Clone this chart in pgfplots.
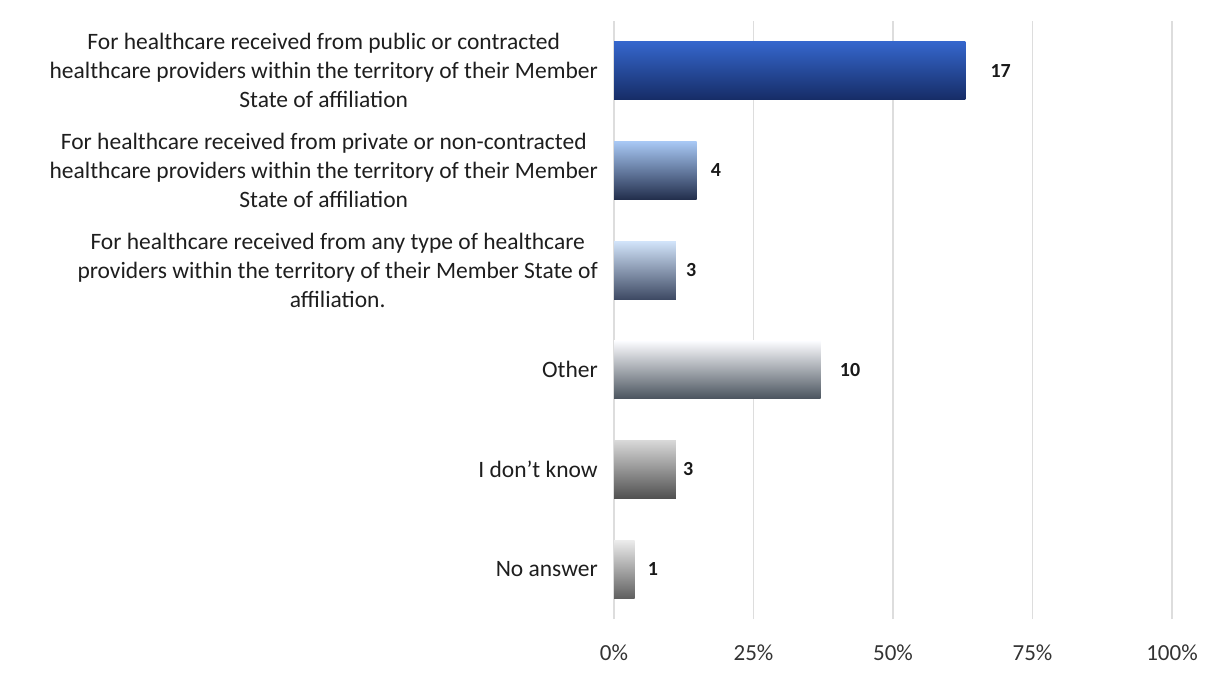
\documentclass[border=0pt]{standalone}
\usepackage{pgfplots}
\pgfplotsset{compat=1.18}
\usepackage{fontspec}
\setmainfont{Carlito}

% shaded bar colours (top / middle / bottom)
\definecolor{bAt}{HTML}{3566CC}\definecolor{bAm}{HTML}{5C96F5}\definecolor{bAb}{HTML}{162C66}
\definecolor{bBt}{HTML}{A8C8F4}\definecolor{bBm}{HTML}{86A6DC}\definecolor{bBb}{HTML}{222E4C}
\definecolor{bCt}{HTML}{D2E4FA}\definecolor{bCm}{HTML}{B4CAEC}\definecolor{bCb}{HTML}{3E4A64}
\definecolor{bDt}{HTML}{FCFCFF}\definecolor{bDm}{HTML}{E8EEFA}\definecolor{bDb}{HTML}{4A545E}
\definecolor{bEt}{HTML}{D8D8D8}\definecolor{bEm}{HTML}{B8B8B8}\definecolor{bEb}{HTML}{505050}
\definecolor{bFt}{HTML}{ECECEC}\definecolor{bFm}{HTML}{C8C8C8}\definecolor{bFb}{HTML}{606060}
\definecolor{gridgray}{HTML}{DDDDDD}
\definecolor{labelgray}{HTML}{1E1E1E}

\begin{document}
\begin{tikzpicture}[x=1pt,y=1pt]
\useasboundingbox (0,0) rectangle (1212,681);
\begin{axis}[
  at={(614pt,62pt)}, anchor=south west,
  scale only axis, width=558pt, height=598pt,
  xbar, bar shift=0pt, bar width=58pt,
  xmin=0, xmax=100, ymin=-0.5, ymax=5.5,
  xtick={0,25,50,75,100},
  xticklabel={\pgfmathprintnumber{\tick}\%},
  ytick={0,1,2,3,4,5},
  yticklabels={
    No answer,
    I don’t know,
    Other,
    {For healthcare received from any type of healthcare\\providers within the territory of their Member State of\\affiliation.},
    {For healthcare received from private or non-contracted\\healthcare providers within the territory of their Member\\State of affiliation},
    {For healthcare received from public or contracted\\healthcare providers within the territory of their Member\\State of affiliation}
  },
  major tick length=0pt,
  xmajorgrids, grid style={gridgray, line width=1.2pt},
  axis lines*=left,
  x axis line style={draw=none},
  y axis line style={draw=gridgray, line width=1.2pt},
  /pgf/number format/assume math mode=true,
  xticklabel style={font=\fontsize{23}{27}\selectfont, text=black!80, inner sep=0pt, yshift=-26pt},
  yticklabel style={font=\fontsize{23.5}{29}\selectfont, text=labelgray, align=center, inner sep=0pt, xshift=-16pt},
  nodes near coords,
  point meta=explicit symbolic,
  nodes near coords style={font=\bfseries\fontsize{20}{20}\selectfont, text=black!90, anchor=west, inner sep=0pt},
  clip=false,
]
% bar length = share of the 27 respondents, label = number of answers
\addplot[draw=none, top color=bAt, middle color=bAm, bottom color=bAb,
  nodes near coords style={xshift=25pt}] coordinates {(62.96,5) [17]};
\addplot[draw=none, top color=bBt, middle color=bBm, bottom color=bBb,
  nodes near coords style={xshift=14pt}] coordinates {(14.81,4) [4]};
\addplot[draw=none, top color=bCt, middle color=bCm, bottom color=bCb,
  nodes near coords style={xshift=10pt}] coordinates {(11.11,3) [3]};
\addplot[draw=none, top color=bDt, middle color=bDm, bottom color=bDb,
  nodes near coords style={xshift=19pt}] coordinates {(37.04,2) [10]};
\addplot[draw=none, top color=bEt, middle color=bEm, bottom color=bEb,
  nodes near coords style={xshift=7pt}] coordinates {(11.11,1) [3]};
\addplot[draw=none, top color=bFt, middle color=bFm, bottom color=bFb,
  nodes near coords style={xshift=13pt}] coordinates {(3.70,0) [1]};
\end{axis}
\end{tikzpicture}
\end{document}
